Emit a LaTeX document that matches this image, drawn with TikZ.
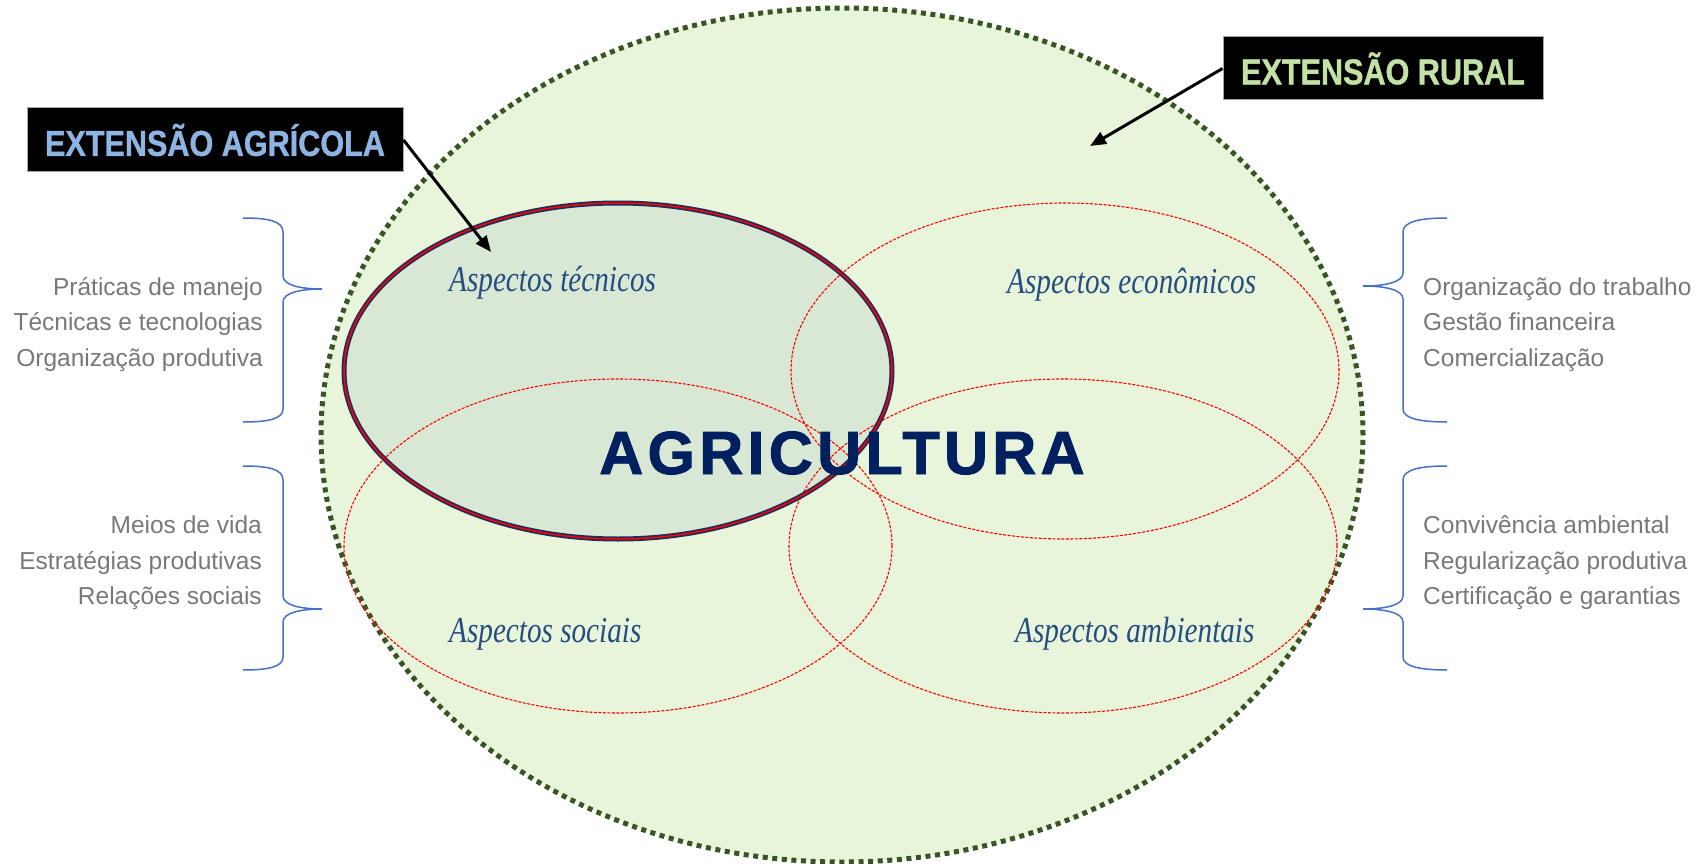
\documentclass[tikz,border=0pt]{standalone}
\usepackage{fontspec}
\setmainfont{Liberation Sans}
\newfontfamily\sidefont{Liberation Sans}
\newfontfamily\boxfont[FakeStretch=0.85,FakeBold=1]{Liberation Sans}
\newfontfamily\aspfont[FakeStretch=0.8]{Liberation Serif}
\newfontfamily\agrfont[LetterSpace=7,FakeBold=1.5]{Liberation Sans}
\usetikzlibrary{arrows.meta}
\definecolor{outerfill}{RGB}{233,245,218}
\definecolor{outerdot}{RGB}{55,86,35}
\definecolor{techfill}{RGB}{217,232,212}
\definecolor{technavy}{RGB}{31,45,90}
\definecolor{sidegray}{RGB}{120,120,120}
\definecolor{braceblue}{RGB}{68,114,196}
\definecolor{aspblue}{RGB}{36,77,130}
\definecolor{agrinavy}{RGB}{0,32,96}
\definecolor{agrlblue}{RGB}{141,180,226}
\definecolor{rurlgreen}{RGB}{195,225,165}
\tikzset{
  sidetext/.style={font=\sidefont\fontsize{24.5}{30}\selectfont, text=sidegray, inner sep=0pt},
  boxlabel/.style={fill=black, draw=gray!70, line width=1pt, font=\boxfont\bfseries\fontsize{36}{40}\selectfont, inner sep=0pt},
  asplabel/.style={font=\aspfont\itshape\fontsize{36.5}{40}\selectfont, text=aspblue, inner sep=0pt},
  venn/.style={draw=red, line width=1.1pt, dash pattern=on 3pt off 1.5pt},
  bracepath/.style={draw=braceblue, line width=1.5pt},
  arr/.style={draw=black, line width=3pt, -{Triangle[length=16pt,width=13pt]}}
}
\begin{document}
\begin{tikzpicture}[x=1pt,y=-1pt]
\useasboundingbox (0,0) rectangle (1701,864);
% outer ellipse (extensao rural)
\fill[outerfill] (842,435) ellipse [x radius=521pt, y radius=427pt];
\draw[outerdot, line width=5pt, dash pattern=on 5pt off 4.6pt] (842,435) ellipse [x radius=521pt, y radius=427pt];
% technical ellipse fill
\fill[techfill] (618,371) ellipse [x radius=274pt, y radius=168pt];
% other aspect ellipses
\draw[venn] (1065,371) ellipse [x radius=274pt, y radius=168pt];
\draw[venn] (618,546) ellipse [x radius=274pt, y radius=167pt];
\draw[venn] (1063,546) ellipse [x radius=274pt, y radius=167pt];
% technical ellipse border
\draw[technavy, line width=5pt] (618,371) ellipse [x radius=274pt, y radius=168pt];
\draw[red, line width=1.5pt] (618,371) ellipse [x radius=274pt, y radius=168pt];
% aspect labels
\node[asplabel, anchor=base west] (tec) at (449,291) {Aspectos técnicos};
\node[asplabel, anchor=base west] (eco) at (1007,293) {Aspectos econômicos};
\node[asplabel, anchor=base west] (soc) at (449,642) {Aspectos sociais};
\node[asplabel, anchor=base west] (amb) at (1015,642) {Aspectos ambientais};
% central label
\node[anchor=base, inner sep=0pt, text=agrinavy, font=\agrfont\bfseries\fontsize{61}{64}\selectfont] (agr) at (842,474) {AGRICULTURA};
% left side texts
\node[sidetext, anchor=base east] (l1) at (263,295) {Práticas de manejo};
\node[sidetext, anchor=base east] (l2) at (263,330.5) {Técnicas e tecnologias};
\node[sidetext, anchor=base east] (l3) at (263,366) {Organização produtiva};
\node[sidetext, anchor=base east] (l4) at (262,533) {Meios de vida};
\node[sidetext, anchor=base east] (l5) at (262,569) {Estratégias produtivas};
\node[sidetext, anchor=base east] (l6) at (262,604.5) {Relações sociais};
% right side texts
\node[sidetext, anchor=base west] (r1) at (1423,295) {Organização do trabalho};
\node[sidetext, anchor=base west] (r2) at (1423,330.5) {Gestão financeira};
\node[sidetext, anchor=base west] (r3) at (1423,366) {Comercialização};
\node[sidetext, anchor=base west] (r4) at (1423,533) {Convivência ambiental};
\node[sidetext, anchor=base west] (r5) at (1423,569) {Regularização produtiva};
\node[sidetext, anchor=base west] (r6) at (1423,604.5) {Certificação e garantias};
% braces
\draw[bracepath] (243,218) .. controls (268,218) and (283,221) .. (283,232) -- (283,276) .. controls (283,285) and (300,289) .. (322,289) .. controls (300,289) and (283,293) .. (283,302) -- (283,409) .. controls (283,419) and (268,422) .. (243,422);
\draw[bracepath] (243,466) .. controls (268,466) and (283,469) .. (283,480) -- (283,596) .. controls (283,605) and (300,609) .. (322,609) .. controls (300,609) and (283,613) .. (283,622) -- (283,657) .. controls (283,667) and (268,670) .. (243,670);
\draw[bracepath] (1447,218) .. controls (1422,218) and (1403,221) .. (1403,232) -- (1403,273) .. controls (1403,282) and (1386,286) .. (1363,286) .. controls (1386,286) and (1403,290) .. (1403,299) -- (1403,409) .. controls (1403,419) and (1422,422) .. (1447,422);
\draw[bracepath] (1447,466) .. controls (1422,466) and (1403,469) .. (1403,480) -- (1403,596) .. controls (1403,605) and (1386,609) .. (1363,609) .. controls (1386,609) and (1403,613) .. (1403,622) -- (1403,657) .. controls (1403,667) and (1422,670) .. (1447,670);
% title boxes
\node[boxlabel, minimum width=376pt, minimum height=64pt, text=agrlblue] (agri) at (215,140) {EXTENSÃO AGRÍCOLA};
\node[boxlabel, minimum width=320pt, minimum height=63pt, text=rurlgreen] (rural) at (1383,68.5) {EXTENSÃO RURAL};
% arrows
\coordinate (agriTip) at (491,252);
\coordinate (ruralTip) at (1090,146);
\draw[arr] (agri.east) -- (agriTip);
\draw[arr] (rural.west) -- (ruralTip);
\end{tikzpicture}
\end{document}
